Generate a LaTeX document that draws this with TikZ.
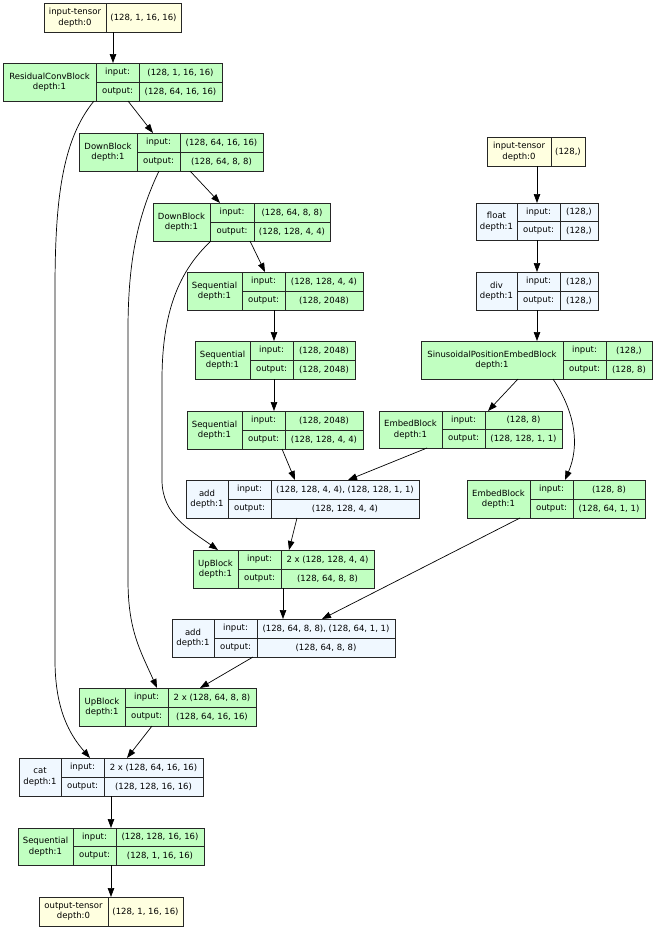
\documentclass[tikz,border=0pt]{standalone}
\usepackage{fontspec}
\setmainfont{DejaVu Sans}
\usetikzlibrary{arrows.meta}
\definecolor{gr}{HTML}{C1FFC1}
\definecolor{yl}{HTML}{FFFFE0}
\definecolor{bl}{HTML}{F0F8FF}
\tikzset{
  box/.style={draw=black!85, line width=0.8pt, inner sep=0pt, outer sep=0pt},
  cellline/.style={draw=black!85, line width=0.8pt},
  txt/.style={inner sep=0pt, align=center, font=\fontsize{8.5}{10.5}\selectfont},
  edge/.style={line width=0.7pt, -{Triangle[length=9pt,width=6.5pt]}},
}
% name, fill, x1, s1, s2, x2, y1, y2, title
\newcommand\modbox[9]{%
  \node[box, fill=#2, minimum width={(#6-#3)*1pt}, minimum height={(#8-#7)*1pt}] (#1) at ({(#3+#6)/2},{(#7+#8)/2}) {};
  \draw[cellline] (#4,#7) -- (#4,#8) (#5,#7) -- (#5,#8) (#4,{(#7+#8)/2}) -- (#6,{(#7+#8)/2});
  \node[txt] (#1-t) at ({(#3+#4)/2},{(#7+#8)/2}) {#9\\depth:1};
  \node[txt] (#1-i) at ({(#4+#5)/2},{(3*#7+#8)/4}) {input:};
  \node[txt] (#1-o) at ({(#4+#5)/2},{(#7+3*#8)/4}) {output:};
  \def\valx{(#5+#6)/2}\def\valyi{(3*#7+#8)/4}\def\valyo{(#7+3*#8)/4}%
}
% name, in value, out value
\newcommand\modio[3]{%
  \node[txt] (#1-iv) at ({\valx},{\valyi}) {#2};
  \node[txt] (#1-ov) at ({\valx},{\valyo}) {#3};
}
% name, x1, s, x2, y1, y2, title, value
\newcommand\tenbox[8]{%
  \node[box, fill=yl, minimum width={(#4-#2)*1pt}, minimum height={(#6-#5)*1pt}] (#1) at ({(#2+#4)/2},{(#5+#6)/2}) {};
  \draw[cellline] (#3,#5) -- (#3,#6);
  \node[txt] (#1-t) at ({(#2+#3)/2},{(#5+#6)/2}) {#7\\depth:0};
  \node[txt] (#1-v) at ({(#3+#4)/2},{(#5+#6)/2}) {#8};
}
\begin{document}
\begin{tikzpicture}[x=1pt,y=-1pt]
\useasboundingbox[fill=white] (0,0) rectangle (656,929);

\tenbox{in1}{44}{106}{181}{3}{32}{input-tensor}{(128, 1, 16, 16)}
\modbox{rcb}{gr}{3}{96}{139}{222}{63}{101}{ResidualConvBlock}
\modio{rcb}{(128, 1, 16, 16)}{(128, 64, 16, 16)}
\modbox{db1}{gr}{79}{137}{180}{263}{133}{171}{DownBlock}
\modio{db1}{(128, 64, 16, 16)}{(128, 64, 8, 8)}
\modbox{db2}{gr}{153}{210}{254}{330}{203}{241}{DownBlock}
\modio{db2}{(128, 64, 8, 8)}{(128, 128, 4, 4)}
\modbox{sq1}{gr}{187}{242}{285}{363}{272}{310}{Sequential}
\modio{sq1}{(128, 128, 4, 4)}{(128, 2048)}
\modbox{sq2}{gr}{195}{250}{293}{355}{341}{379}{Sequential}
\modio{sq2}{(128, 2048)}{(128, 2048)}
\modbox{sq3}{gr}{187}{242}{285}{363}{411}{449}{Sequential}
\modio{sq3}{(128, 2048)}{(128, 128, 4, 4)}
\modbox{add1}{bl}{186}{228}{271}{419}{480}{518}{add}
\modio{add1}{(128, 128, 4, 4), (128, 128, 1, 1)}{(128, 128, 4, 4)}
\modbox{ub1}{gr}{193}{238}{281}{374}{550}{588}{UpBlock}
\modio{ub1}{2 x (128, 128, 4, 4)}{(128, 64, 8, 8)}
\modbox{add2}{bl}{172}{214}{257}{395}{619}{657}{add}
\modio{add2}{(128, 64, 8, 8), (128, 64, 1, 1)}{(128, 64, 8, 8)}
\modbox{ub2}{gr}{79}{125}{168}{256}{688}{726}{UpBlock}
\modio{ub2}{2 x (128, 64, 8, 8)}{(128, 64, 16, 16)}
\modbox{cat}{bl}{19}{61}{104}{203}{758}{796}{cat}
\modio{cat}{2 x (128, 64, 16, 16)}{(128, 128, 16, 16)}
\modbox{sq4}{gr}{18}{73}{116}{204}{828}{865}{Sequential}
\modio{sq4}{(128, 128, 16, 16)}{(128, 1, 16, 16)}
\tenbox{out}{39}{108}{183}{897}{926}{output-tensor}{(128, 1, 16, 16)}

\tenbox{in2}{487}{551}{585}{137}{166}{input-tensor}{(128,)}
\modbox{flt}{bl}{476}{517}{560}{598}{203}{240}{float}
\modio{flt}{(128,)}{(128,)}
\modbox{div}{bl}{476}{517}{560}{598}{272}{310}{div}
\modio{div}{(128,)}{(128,)}
\modbox{sin}{gr}{421}{563}{606}{652}{341}{379}{SinusoidalPositionEmbedBlock}
\modio{sin}{(128,)}{(128, 8)}
\modbox{eb1}{gr}{379}{442}{485}{562}{411}{448}{EmbedBlock}
\modio{eb1}{(128, 8)}{(128, 128, 1, 1)}
\modbox{eb2}{gr}{467}{530}{573}{645}{480}{518}{EmbedBlock}
\modio{eb2}{(128, 8)}{(128, 64, 1, 1)}

% edges
\draw[edge] (in1.south -| 113,0) -- (rcb.north -| 113,0);
\draw[edge] (rcb.south -| 128,0) -- (db1.north -| 153,0);
\draw[edge] (rcb.south -| 94,0) .. controls (62,140) and (55,200) .. (55,290) -- (55,660) .. controls (55,710) and (70,735) .. (cat.north -| 90,0);
\draw[edge] (db1.south -| 190,0) -- (db2.north -| 220,0);
\draw[edge] (db1.south -| 159,0) .. controls (138,215) and (128,260) .. (128,330) -- (128,580) .. controls (128,630) and (140,650) .. (ub2.north -| 157,0);
\draw[edge] (db2.south -| 250,0) -- (sq1.north -| 265,0);
\draw[edge] (db2.south -| 211,0) .. controls (180,270) and (162,310) .. (162,380) -- (162,480) .. controls (162,515) and (190,530) .. (ub1.north -| 218,0);
\draw[edge] (sq1.south -| 274,0) -- (sq2.north -| 274,0);
\draw[edge] (sq2.south -| 274,0) -- (sq3.north -| 274,0);
\draw[edge] (sq3.south -| 282,0) -- (add1.north -| 295,0);
\draw[edge] (eb1.south -| 427,0) -- (add1.north -| 348,0);
\draw[edge] (add1.south -| 297,0) -- (ub1.north -| 289,0);
\draw[edge] (ub1.south -| 283,0) -- (add2.north -| 283,0);
\draw[edge] (eb2.south -| 520,0) -- (add2.north -| 322,0);
\draw[edge] (add2.south -| 253,0) -- (ub2.north -| 200,0);
\draw[edge] (ub2.south -| 152,0) -- (cat.north -| 127,0);
\draw[edge] (cat.south -| 111,0) -- (sq4.north -| 111,0);
\draw[edge] (sq4.south -| 111,0) -- (out.north -| 111,0);
\draw[edge] (in2.south -| 537,0) -- (flt.north -| 537,0);
\draw[edge] (flt.south -| 537,0) -- (div.north -| 537,0);
\draw[edge] (div.south -| 537,0) -- (sin.north -| 537,0);
\draw[edge] (sin.south -| 518,0) -- (eb1.north -| 488,0);
\draw[edge] (sin.south -| 553,0) .. controls (575,412) and (580,445) .. (eb2.north -| 565,0);
\end{tikzpicture}
\end{document}
